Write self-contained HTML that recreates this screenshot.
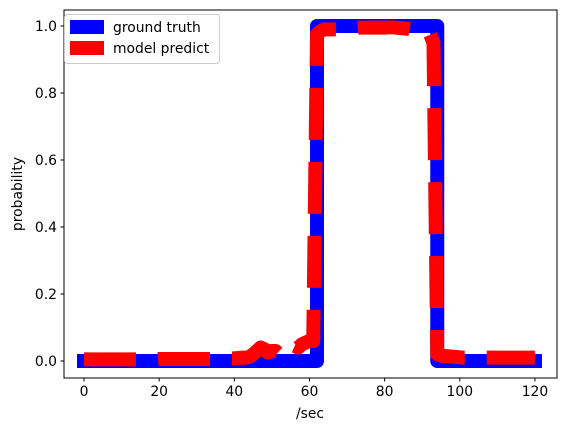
<!DOCTYPE html>
<html><head><meta charset="utf-8"><style>
body{margin:0;background:#fff}
svg{display:block;font-family:"DejaVu Sans","Liberation Sans",sans-serif}
</style></head><body>
<svg id="c" width="567" height="432" viewBox="0 0 567 432">
<defs><clipPath id="clip"><rect x="64" y="10" width="493" height="368"/></clipPath></defs>
<rect x="0" y="0" width="567" height="432" fill="#fff"/>
<g id="plot" clip-path="url(#clip)"></g>
<rect x="64" y="10" width="493" height="368" fill="none" stroke="#000" stroke-width="1"/>
<g id="xt"></g><g id="yt"></g>
<text x="310" y="418" font-size="13.9" text-anchor="middle">/sec</text>
<text transform="translate(22,194) rotate(-90)" font-size="13.9" text-anchor="middle">probability</text>
<g>
<rect x="64.5" y="14.5" width="155" height="49" rx="3" fill="#fff" fill-opacity="0.8" stroke="#ccc"/>
<line x1="70" y1="27" x2="104" y2="27" stroke="#00f" stroke-width="14"/>
<text x="113" y="32" font-size="13.9">ground truth</text>
<line x1="70" y1="48" x2="104" y2="48" stroke="#f00" stroke-width="14"/>
<text x="113" y="53" font-size="13.9">model predict</text>
</g>
</svg>
<script>
const xTicks=[0,20,40,60,80,100,120];
const yTicks=[0,0.2,0.4,0.6,0.8,1.0];
const yTickLabels=["0.0","0.2","0.4","0.6","0.8","1.0"];
const times=[];for(let i=0;i<=120;i++)times.push(i);
const gtStart=62, gtEnd=94;
const predict=[0.005,0.005,0.005,0.005,0.005,0.005,0.005,0.005,0.005,0.005,
0.005,0.005,0.005,0.005,0.005,0.005,0.005,0.005,0.005,0.005,
0.006,0.006,0.006,0.006,0.006,0.006,0.006,0.006,0.006,0.006,
0.006,0.006,0.006,0.006,0.006,0.006,0.006,0.006,0.007,0.008,
0.008,0.009,0.01,0.01,0.012,0.02,0.03,0.04,0.035,0.025,
0.03,0.03,0.02,0.025,0.04,0.05,0.045,0.04,0.05,0.055,
0.06,0.06,0.975,0.985,0.99,0.99,0.99,0.99,0.99,0.99,
0.992,0.993,0.994,0.995,0.995,0.995,0.995,0.995,0.995,0.995,
0.995,0.996,0.996,0.995,0.994,0.993,0.992,0.99,0.988,0.986,
0.984,0.982,0.978,0.95,0.02,0.016,0.015,0.014,0.013,0.012,
0.011,0.01,0.01,0.01,0.01,0.01,0.01,0.01,0.01,0.01,
0.01,0.01,0.01,0.01,0.01,0.01,0.01,0.01,0.01,0.01,0.01];
const gt=times.map(t=>(t>=gtStart&&t<gtEnd)?1:0);
const X=v=>84+v*3.758, Y=v=>361-v*335;
const NS="http://www.w3.org/2000/svg";
const plot=document.getElementById('plot');
function mk(tag,attrs,parent){const e=document.createElementNS(NS,tag);for(const k in attrs)e.setAttribute(k,attrs[k]);parent.appendChild(e);return e;}
// ground truth step path
let d='';
times.forEach((t,i)=>{const x=X(t),y=Y(gt[i]);if(i===0)d+='M'+x+','+y;else{if(gt[i]!==gt[i-1])d+='L'+x+','+Y(gt[i-1]);d+='L'+x+','+y;}});
const g=mk('path',{d:d,fill:'none',stroke:'#00f','stroke-width':14,'stroke-linejoin':'round','stroke-linecap':'square'},plot);


let d2='';
times.forEach((t,i)=>{d2+=(i?'L':'M')+X(t)+','+Y(predict[i]);});
const p=mk('path',{d:d2,fill:'none',stroke:'#f00','stroke-width':14,'stroke-dasharray':'52 22','stroke-linejoin':'round'},plot);


const xt=document.getElementById('xt');
xTicks.forEach(v=>{
 const l=mk('line',{x1:X(v),x2:X(v),y1:378,y2:381.5,stroke:'#000'},xt);
 
 
 const t=mk('text',{x:X(v),y:396,'font-size':13.9,'text-anchor':'middle'},xt);t.textContent=v;
 
 
});
const yt=document.getElementById('yt');
yTicks.forEach((v,i)=>{
 const l=mk('line',{x1:60.5,x2:64,y1:Y(v),y2:Y(v),stroke:'#000'},yt);
 
 
 const t=mk('text',{x:57,y:Y(v)+5,'font-size':13.9,'text-anchor':'end'},yt);t.textContent=yTickLabels[i];
 
 
});
</script>
</body></html>
